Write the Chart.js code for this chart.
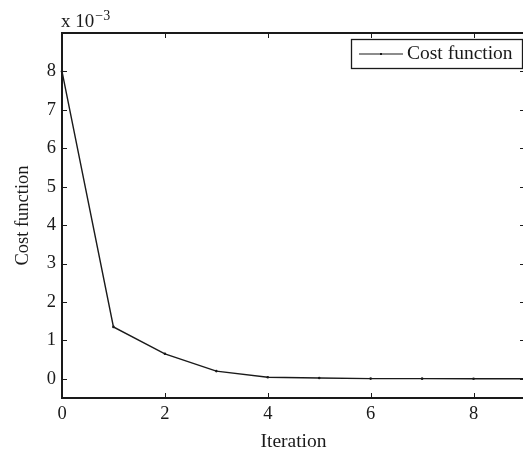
<!DOCTYPE html>
<html>
<head>
<meta charset="utf-8">
<script src="https://cdn.jsdelivr.net/npm/chart.js@4/dist/chart.umd.min.js"></script>
<style>
  html, body { margin: 0; padding: 0; background: #fff; overflow: hidden; }
  #wrap { position: relative; width: 530px; height: 454px; }
</style>
</head>
<body>
<div id="wrap"><canvas id="c" width="530" height="454"></canvas></div>
<script>
// Cost function value per iteration
const iterations = [0, 1, 2, 3, 4, 5, 6, 7, 8, 9];
const costValues = [0.0080, 0.00135, 0.00065, 0.00020, 0.00004, 0.00002, 0.000005, 0.000003, 0.000002, 0.000001];
const xTicks = [0, 2, 4, 6, 8];
const yTicks = [0, 0.001, 0.002, 0.003, 0.004, 0.005, 0.006, 0.007, 0.008];
const seriesName = 'Cost function';
const xTitle = 'Iteration';
const yTitle = 'Cost function';

const FONT = '"Liberation Serif", "Times New Roman", serif';
const INK = '#1a1a1a';

// Box frame, inward tick marks, exponent label and legend
const framePlugin = {
  id: 'frame',
  afterDraw(chart) {
    const ctx = chart.ctx;
    const a = chart.chartArea;
    const xs = chart.scales.x, ys = chart.scales.y;
    ctx.save();
    ctx.strokeStyle = INK;
    ctx.lineWidth = 2;
    ctx.strokeRect(a.left, a.top, a.right - a.left, a.bottom - a.top);
    ctx.lineWidth = 1;
    const tl = 5;
    ctx.beginPath();
    xTicks.forEach(v => {
      const px = Math.round(xs.getPixelForValue(v)) + 0.5;
      ctx.moveTo(px, a.bottom); ctx.lineTo(px, a.bottom - tl);
      ctx.moveTo(px, a.top); ctx.lineTo(px, a.top + tl);
    });
    yTicks.forEach(v => {
      const py = Math.round(ys.getPixelForValue(v)) + 0.5;
      ctx.moveTo(a.left, py); ctx.lineTo(a.left + tl, py);
      ctx.moveTo(a.right, py); ctx.lineTo(a.right - tl, py);
    });
    ctx.stroke();

    // exponent label above the y axis
    ctx.fillStyle = INK;
    ctx.textBaseline = 'alphabetic';
    ctx.textAlign = 'left';
    ctx.font = '19px ' + FONT;
    ctx.fillText('x 10', a.left - 1, a.top - 6);
    const w = ctx.measureText('x 10').width;
    ctx.font = '14px ' + FONT;
    ctx.fillText('\u22123', a.left - 1 + w + 1, a.top - 13);

    // legend box
    const lx = 351, ly = 39, lw = 171, lh = 29;
    ctx.fillStyle = '#fff';
    ctx.fillRect(lx, ly, lw, lh);
    ctx.strokeStyle = INK;
    ctx.lineWidth = 1.3;
    ctx.strokeRect(lx + 0.5, ly + 0.5, lw, lh);
    ctx.lineWidth = 1.2;
    ctx.beginPath();
    ctx.moveTo(359, ly + 15); ctx.lineTo(403, ly + 15);
    ctx.stroke();
    ctx.fillStyle = INK;
    ctx.fillRect(380, ly + 14, 2, 2);
    ctx.font = '19.5px ' + FONT;
    ctx.textBaseline = 'middle';
    ctx.fillText(seriesName, 407, ly + 15);
    ctx.restore();
  }
};

new Chart(document.getElementById('c'), {
  type: 'line',
  data: {
    datasets: [{
      label: seriesName,
      data: iterations.map((x, i) => ({ x: x, y: costValues[i] })),
      borderColor: INK,
      borderWidth: 1.4,
      pointRadius: 1.3,
      pointBackgroundColor: INK,
      pointBorderWidth: 0,
      tension: 0,
      clip: false
    }]
  },
  options: {
    responsive: false,
    animation: false,
    layout: { padding: { top: 33, right: 5, left: 0, bottom: 0 } },
    plugins: { legend: { display: false }, tooltip: { enabled: false } },
    scales: {
      x: {
        type: 'linear',
        min: 0, max: 9,
        afterBuildTicks: s => { s.ticks = xTicks.map(v => ({ value: v })); },
        afterFit: s => { s.height = 56; },
        grid: { display: false, drawTicks: false },
        border: { display: false },
        ticks: { color: INK, font: { family: FONT, size: 18.5 }, padding: 5, maxRotation: 0 },
        title: { display: true, text: xTitle, color: INK, font: { family: FONT, size: 19.5 }, padding: { top: 0, bottom: 0 } }
      },
      y: {
        type: 'linear',
        min: -0.0005, max: 0.009,
        afterBuildTicks: s => { s.ticks = yTicks.map(v => ({ value: v })); },
        afterFit: s => { s.width = 62; },
        grid: { display: false, drawTicks: false },
        border: { display: false },
        ticks: { color: INK, font: { family: FONT, size: 18.5 }, padding: 6,
          callback: v => String(Math.round(v * 1000)) },
        title: { display: true, text: yTitle, color: INK, font: { family: FONT, size: 18.5 }, padding: { top: 12, bottom: 0 } }
      }
    }
  },
  plugins: [framePlugin]
});
</script>
</body>
</html>
